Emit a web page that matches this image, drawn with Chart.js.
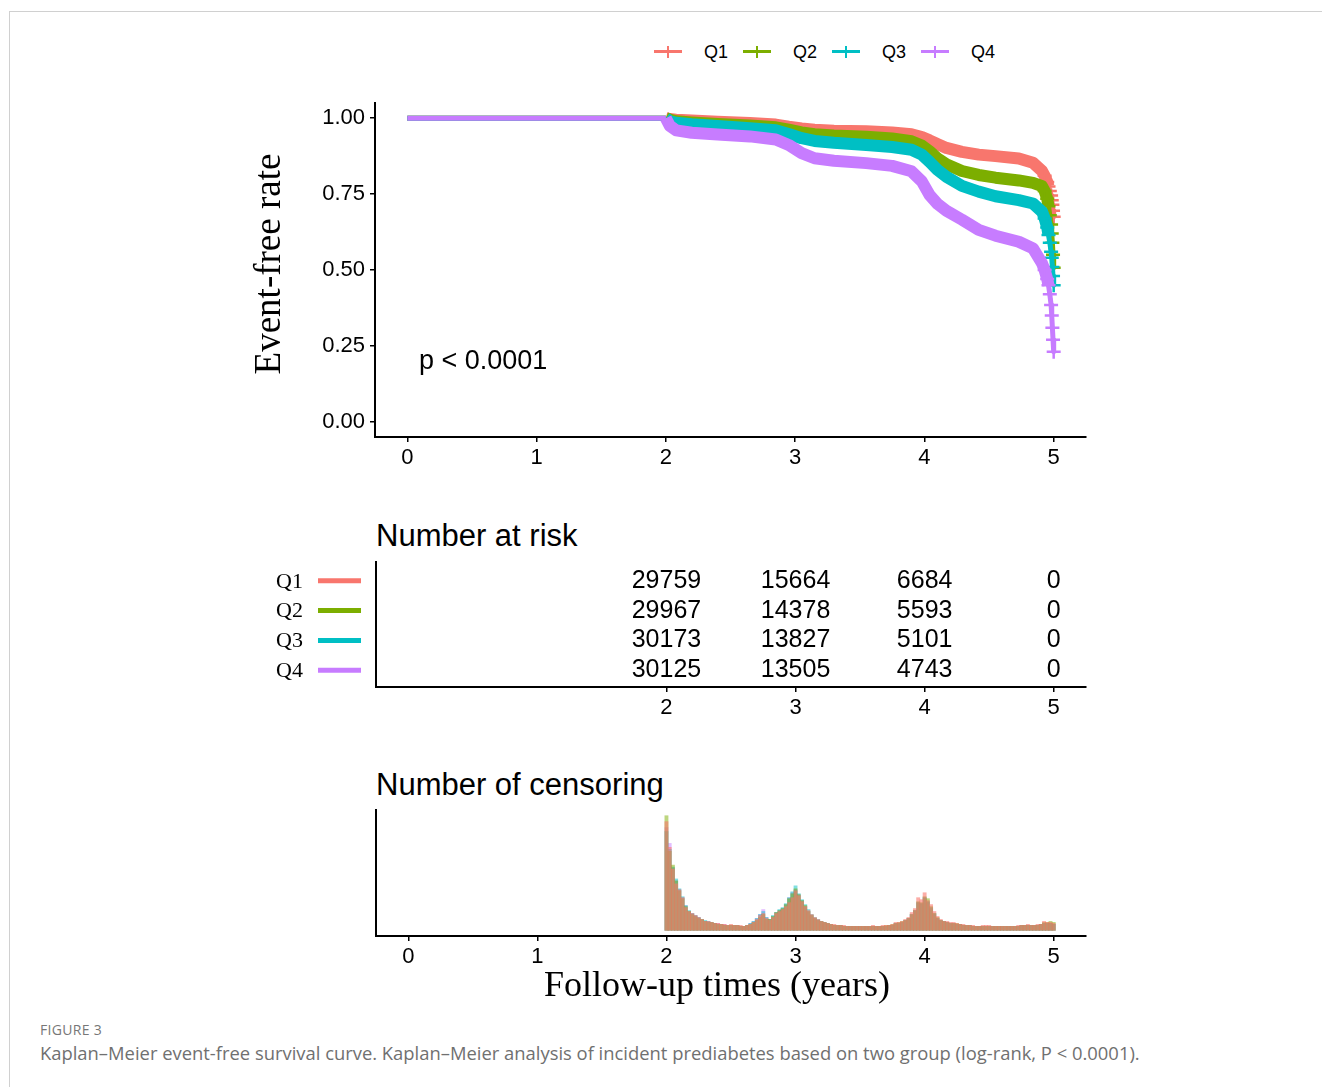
<!DOCTYPE html>
<html>
<head>
<meta charset="utf-8">
<script src="https://cdn.jsdelivr.net/npm/chart.js@4.4.1/dist/chart.umd.min.js"></script>
<style>
  body { margin: 0; background: #fff; width: 1322px; height: 1087px; position: relative; overflow: hidden;
         font-family: "Liberation Sans", Arial, sans-serif; color: #000; }
  .frame { position: absolute; left: 9px; top: 11px; width: 1400px; height: 1200px; border: 1px solid #d0d0d0; }
  canvas { position: absolute; }
  .txt { position: absolute; white-space: nowrap; line-height: 1; }
  #legend { position: absolute; left: 654px; top: 42px; display: flex; align-items: center; height: 20px; }
  .sym { position: relative; width: 28px; height: 20px; margin-right: 22px; }
  .sym .h { position: absolute; left: 0; top: 8px; width: 28px; height: 3px; }
  .sym .v { position: absolute; left: 13px; top: 4px; width: 2px; height: 12px; }
  .lab { font-size: 18px; width: 24px; margin-right: 15px; }
</style>
</head>
<body>
<div class="frame"></div>
<div id="legend"></div>
<canvas id="km" width="860" height="380" style="left:240px;top:90px"></canvas>
<div class="txt" style="left:376px;top:520px;font-size:31px">Number at risk</div>
<canvas id="risk" width="840" height="170" style="left:260px;top:555px"></canvas>
<div class="txt" style="left:376px;top:769px;font-size:31px">Number of censoring</div>
<canvas id="cens" width="840" height="175" style="left:260px;top:800px"></canvas>
<div class="txt" style="left:717px;top:966px;transform:translateX(-50%);font-family:'Liberation Serif',serif;font-size:36px">Follow-up times (years)</div>
<div class="txt" style="left:40px;top:1023px;font-family:'Open Sans',sans-serif;font-size:14px;color:#777;letter-spacing:0.3px">FIGURE 3</div>
<div class="txt" style="left:40px;top:1044px;font-family:'Open Sans',sans-serif;font-size:18.4px;color:#707070">Kaplan–Meier event-free survival curve. Kaplan–Meier analysis of incident prediabetes based on two group (log-rank, P &lt; 0.0001).</div>

<script>
const groups = ['Q1', 'Q2', 'Q3', 'Q4'];
const colors = ['#F8766D', '#7CAE00', '#00BFC4', '#C77CFF'];

// Kaplan-Meier curves
const kmTimes = [0, 2, 2.03, 2.08, 2.2, 2.4, 2.65, 2.85, 2.95, 3.05, 3.15, 3.3, 3.55, 3.75, 3.9, 3.98,
                 4.04, 4.1, 4.17, 4.29, 4.42, 4.55, 4.73, 4.84, 4.91, 4.93, 4.95, 4.96, 4.97, 4.98, 4.985, 4.99, 4.995, 5.0];
const survQ1 = [1, 1, 0.997, 0.995, 0.992, 0.988, 0.984, 0.979, 0.972, 0.966, 0.962, 0.959, 0.957, 0.953, 0.947, 0.938,
                0.927, 0.915, 0.902, 0.889, 0.880, 0.875, 0.867, 0.853, 0.826, 0.81, 0.79, 0.775, 0.76, 0.745, 0.73, 0.715, 0.695, 0.675];
const survQ2 = [1, 1, 0.995, 0.990, 0.986, 0.981, 0.976, 0.970, 0.962, 0.953, 0.947, 0.943, 0.939, 0.933, 0.924, 0.910,
                0.891, 0.868, 0.848, 0.826, 0.813, 0.804, 0.795, 0.787, 0.776, 0.76, 0.735, 0.71, 0.68, 0.65, 0.62, 0.59, 0.55, 0.507];
const survQ3 = [1, 1, 0.990, 0.985, 0.980, 0.974, 0.967, 0.960, 0.948, 0.934, 0.925, 0.919, 0.912, 0.905, 0.896, 0.880,
                0.856, 0.830, 0.807, 0.777, 0.758, 0.743, 0.730, 0.719, 0.692, 0.67, 0.64, 0.615, 0.59, 0.56, 0.54, 0.51, 0.48, 0.45];
const survQ4 = [1, 1, 0.975, 0.960, 0.952, 0.946, 0.940, 0.930, 0.912, 0.885, 0.868, 0.860, 0.852, 0.843, 0.825, 0.792,
                0.747, 0.718, 0.695, 0.666, 0.632, 0.613, 0.593, 0.571, 0.522, 0.50, 0.47, 0.45, 0.42, 0.385, 0.35, 0.31, 0.27, 0.231];
const xTicks = [0, 1, 2, 3, 4, 5];
const yTicks = [0, 0.25, 0.5, 0.75, 1];
const yTitle = 'Event-free rate';
const pValue = 'p < 0.0001';

// number at risk
const riskTimes = [2, 3, 4, 5];
const riskQ1 = [29759, 15664, 6684, 0];
const riskQ2 = [29967, 14378, 5593, 0];
const riskQ3 = [30173, 13827, 5101, 0];
const riskQ4 = [30125, 13505, 4743, 0];

// number of censoring, bins of 0.025 years starting at 2.0
const censorStart = 2.0, censorBin = 0.025;
const censQ1 = [110,84,62,47,41,33,23,19,17,15, 13,11,9,9,8,7,7,6,6,5, 6,5,5,5,4,5,6,8,11,15,
  17,12,10,13,17,19,21,24,28,33, 40,35,29,24,20,16,13,11,9,8, 7,6,6,5,5,5,4,4,4,4,
  4,4,4,4,5,4,4,5,5,5, 6,8,8,9,11,13,18,22,33,31, 38,30,26,19,14,11,9,9,8,8,
  7,6,6,5,5,5,4,4,5,5, 5,4,4,4,4,4,4,4,4,5, 5,5,6,5,5,6,6,9,8,8, 7];
const censQ2 = [116,80,66,50,40,32,24,19,16,14, 12,11,9,8,8,7,6,6,5,5, 5,5,5,4,4,5,6,8,10,13,
  16,11,11,14,18,20,22,26,32,37, 42,36,30,25,19,15,12,10,9,8, 7,6,5,5,5,4,4,4,4,4,
  4,4,4,4,4,4,4,4,5,5, 6,7,8,9,10,12,16,20,29,28, 34,32,24,17,13,10,9,8,7,7,
  7,6,5,5,5,4,4,4,4,4, 4,4,4,4,4,4,4,4,4,4, 5,5,5,5,5,5,6,8,8,9, 8];
const censQ3 = [100,82,64,52,42,34,25,20,17,15, 13,11,10,9,8,7,6,6,5,5, 5,5,5,4,4,5,7,9,12,16,
  19,13,11,15,18,21,23,27,33,39, 45,37,31,26,21,16,13,11,9,8, 7,6,5,5,5,4,4,4,4,4,
  4,4,4,4,4,4,4,4,4,5, 5,7,7,8,10,12,16,20,28,27, 33,29,23,17,12,10,9,8,7,7,
  6,6,5,5,5,4,4,4,4,4, 4,4,4,4,4,4,4,4,4,4, 5,5,5,5,5,5,6,7,7,7, 6];
const censQ4 = [104,88,63,50,41,33,25,19,17,15, 13,11,9,9,8,7,7,6,6,5, 5,5,5,4,4,5,7,9,12,16,
  21,13,11,14,18,20,22,26,33,38, 41,36,30,24,19,15,12,10,9,8, 7,6,5,5,5,4,4,4,4,4,
  4,4,4,4,4,4,4,4,4,5, 5,7,7,8,10,12,16,20,28,27, 33,28,22,16,12,10,9,8,7,7,
  6,6,5,5,5,4,4,4,4,4, 4,4,4,4,4,4,4,4,4,4, 5,5,5,5,5,5,6,7,7,7, 6];

const survAll = [survQ1, survQ2, survQ3, survQ4];
const riskAll = [riskQ1, riskQ2, riskQ3, riskQ4];
const censAll = [censQ1, censQ2, censQ3, censQ4];

Chart.defaults.font.family = '"Liberation Sans", Arial, sans-serif';
Chart.defaults.color = '#000';

// legend
const legend = document.getElementById('legend');
groups.forEach((g, k) => {
  legend.insertAdjacentHTML('beforeend',
    `<div class="sym"><div class="h" style="background:${colors[k]}"></div><div class="v" style="background:${colors[k]}"></div></div><div class="lab">${g}</div>`);
});

const xRange = { min: -0.25, max: 5.25 };
const axisGrid = { display: true, drawOnChartArea: false, drawTicks: true, tickLength: 5, color: '#000', lineWidth: 1.5 };
const axisBorder = { display: true, color: '#000', width: 2 };
const tickFont = { size: 22 };
const noTip = { legend: { display: false }, tooltip: { enabled: false } };
// fixed axis sizes so the three panels line up
const fitY = w => s => { s.width = w; s.paddingTop = 0; s.paddingBottom = 0; };
const fitX = h => s => { s.height = h; };

// survival curves: p value and rotated y title
const kmTextPlugin = {
  id: 'kmText',
  afterDatasetsDraw(chart) {
    const { ctx, chartArea, scales: { x, y } } = chart;
    ctx.save();
    ctx.font = '27px "Liberation Sans", Arial, sans-serif';
    ctx.fillStyle = '#000';
    ctx.textBaseline = 'middle';
    ctx.fillText(pValue, x.getPixelForValue(0.09), y.getPixelForValue(0.2));
    ctx.translate(chartArea.left - 105, chartArea.top + 161);
    ctx.rotate(-Math.PI / 2);
    ctx.textAlign = 'center';
    ctx.font = '37px "Liberation Serif", serif';
    ctx.fillText(yTitle, 0, 0);
    ctx.restore();
  }
};

new Chart(document.getElementById('km'), {
  type: 'line',
  data: {
    datasets: groups.map((g, k) => ({
      label: g,
      data: kmTimes.map((t, i) => ({ x: t, y: survAll[k][i] })),
      borderColor: colors[k],
      backgroundColor: colors[k],
      borderWidth: 12,
      borderJoinStyle: 'round',
      segment: { borderWidth: c => (c.p0.parsed.x < 2 ? 5 : (c.p0.parsed.x >= 4.96 ? 5 : 12)) },
      pointStyle: 'cross',
      pointRadius: c => (c.raw && c.raw.x >= 4.93 ? 7 : 0),
      pointBorderWidth: 2.5,
      pointHoverRadius: 0,
      fill: false,
      order: 4 - k
    }))
  },
  options: {
    responsive: false,
    animation: false,
    layout: { padding: { left: 12, top: 13, right: 14, bottom: 0 } },
    plugins: noTip,
    scales: {
      x: {
        type: 'linear', ...xRange,
        afterBuildTicks: s => { s.ticks = xTicks.map(v => ({ value: v })); },
        afterFit: fitX(33),
        grid: axisGrid, border: axisBorder,
        ticks: { font: tickFont, padding: 3, maxRotation: 0 }
      },
      y: {
        min: -0.05, max: 1.05,
        afterBuildTicks: s => { s.ticks = yTicks.map(v => ({ value: v })); },
        afterFit: fitY(123),
        grid: axisGrid, border: axisBorder,
        ticks: { font: tickFont, padding: 5, callback: v => v.toFixed(2) }
      }
    }
  },
  plugins: [kmTextPlugin]
});

// number at risk table
const riskPlugin = {
  id: 'riskText',
  afterDatasetsDraw(chart) {
    const { ctx, chartArea } = chart;
    ctx.save();
    ctx.textBaseline = 'middle';
    chart.data.datasets.forEach((ds, k) => {
      const meta = chart.getDatasetMeta(k);
      ctx.fillStyle = '#000';
      ctx.textAlign = 'center';
      ctx.font = '25px "Liberation Sans", Arial, sans-serif';
      meta.data.forEach((pt, i) => ctx.fillText(String(ds.data[i].n), pt.x, pt.y + 1));
      const py = meta.data[0].y;
      ctx.textAlign = 'right';
      ctx.font = '22px "Liberation Serif", serif';
      ctx.fillText(groups[k], chartArea.left - 73, py + 2);
      ctx.strokeStyle = colors[k];
      ctx.lineWidth = 5;
      ctx.beginPath();
      ctx.moveTo(chartArea.left - 58, py + 1);
      ctx.lineTo(chartArea.left - 15, py + 1);
      ctx.stroke();
    });
    ctx.restore();
  }
};

new Chart(document.getElementById('risk'), {
  type: 'scatter',
  data: {
    datasets: groups.map((g, k) => ({
      label: g,
      data: riskTimes.map((t, i) => ({ x: t, y: 4 - k, n: riskAll[k][i] })),
      pointRadius: 0, pointHoverRadius: 0
    }))
  },
  options: {
    responsive: false,
    animation: false,
    layout: { padding: { left: 0, top: 7, right: 14, bottom: 0 } },
    plugins: noTip,
    scales: {
      x: {
        type: 'linear', ...xRange,
        afterBuildTicks: s => { s.ticks = riskTimes.map(v => ({ value: v })); },
        afterFit: fitX(38),
        grid: axisGrid, border: axisBorder,
        ticks: { font: tickFont, padding: 3, maxRotation: 0 }
      },
      y: {
        min: 0.4, max: 4.6,
        afterFit: fitY(116),
        grid: { display: false }, border: axisBorder,
        ticks: { display: false }
      }
    }
  },
  plugins: [riskPlugin]
});

// number of censoring
const censMax = Math.max(...censAll.flat());
const fills = ['rgba(248,118,109,0.6)', 'rgba(124,174,0,0.5)', 'rgba(0,191,196,0.5)', 'rgba(199,124,255,0.5)'];

new Chart(document.getElementById('cens'), {
  type: 'bar',
  data: {
    datasets: groups.map((g, k) => ({
      label: g,
      data: censAll[k].map((v, i) => ({ x: censorStart + i * censorBin, y: v })),
      backgroundColor: fills[k],
      borderWidth: 0,
      barPercentage: 1,
      categoryPercentage: 1,
      grouped: false
    }))
  },
  options: {
    responsive: false,
    animation: false,
    layout: { padding: { left: 0, top: 10, right: 14, bottom: 0 } },
    plugins: noTip,
    scales: {
      x: {
        type: 'linear', ...xRange, offset: false,
        afterBuildTicks: s => { s.ticks = xTicks.map(v => ({ value: v })); },
        afterFit: fitX(39),
        grid: { ...axisGrid, offset: false }, border: axisBorder,
        ticks: { font: tickFont, padding: 3, maxRotation: 0 }
      },
      y: {
        min: -0.05 * censMax, max: 1.05 * censMax,
        afterFit: fitY(116),
        grid: { display: false }, border: axisBorder,
        ticks: { display: false }
      }
    }
  }
});
</script>
</body>
</html>
